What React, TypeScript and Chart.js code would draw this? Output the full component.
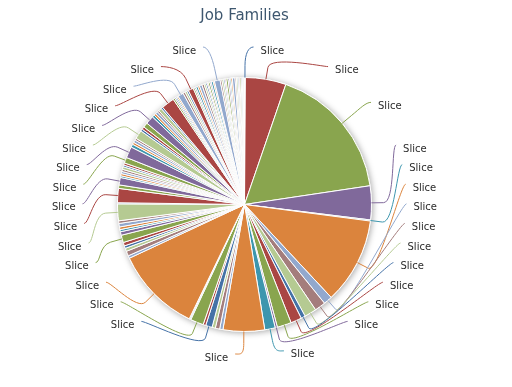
import React, { useEffect, useRef } from 'react';
import { Chart, registerables } from 'chart.js';

Chart.register(...registerables);

const chartTitle = 'Job Families';

// Highcharts-2 style default palette, cycled over the slices
const palette = ['#4572A7', '#AA4643', '#89A54E', '#80699B', '#3D96AE', '#DB843D', '#92A8CD', '#A47D7C', '#B5CA92'];

// slice values (in degrees of the full circle)
const values = [
  0.4, 18.6, 62.5, 15.5, 0.5, 39.5, 4.0, 5.0, 5.5, 2.0,
  5.0, 6.5, 1.0, 4.8, 19.0, 1.5, 2.0, 1.5, 3.0, 1.2,
  6.0, 0.4, 0.4, 39.2, 1.2, 2.2, 1.4, 1.2, 1.6, 3.4,
  1.6, 1.0, 1.2, 1.6, 1.2, 7.7, 0.5, 6.5, 1.6, 3.4,
  0.8, 1.0, 1.0, 1.0, 1.2, 0.8, 1.0, 2.6, 5.2, 1.4,
  1.0, 1.2, 0.9, 4.0, 1.0, 1.2, 2.2, 3.8, 1.1, 0.9,
  1.2, 0.8, 1.5, 0.8, 6.0, 0.8, 0.6, 0.6, 0.6, 2.6,
  1.0, 0.9, 0.8, 2.4, 0.7, 0.6, 0.9, 0.8, 1.2, 1.0,
  0.8, 0.7, 0.5, 0.8, 0.6, 0.9, 0.6, 2.6, 0.8, 0.8,
  0.6, 0.5, 0.9, 0.7, 0.6, 0.7, 1.2, 0.6, 0.7, 0.5,
  0.4, 0.6, 0.5, 0.4, 0.3, 0.3,
];

const categories: string[] = values.map(() => 'Slice');
const sliceColors = values.map((_, i) => palette[i % palette.length]);

const calloutPlugin = {
  id: 'callouts',
  beforeDatasetsDraw(chart: any) {
    const meta = chart.getDatasetMeta(0);
    const el = meta.data[0];
    if (!el) return;
    const { x, y, outerRadius } = el.getProps(['x', 'y', 'outerRadius'], true);
    const ctx = chart.ctx;
    ctx.save();
    ctx.beginPath();
    ctx.arc(x, y, outerRadius + 0.5, 0, Math.PI * 2);
    ctx.shadowColor = 'rgba(0,0,0,0.35)';
    ctx.shadowBlur = 6;
    ctx.shadowOffsetX = 1;
    ctx.shadowOffsetY = 1;
    ctx.fillStyle = '#ffffff';
    ctx.fill();
    ctx.restore();
  },
  afterDatasetsDraw(chart: any) {
    const meta = chart.getDatasetMeta(0);
    const ds = chart.data.datasets[0];
    const vals: number[] = ds.data;
    const cols: string[] = ds.backgroundColor;
    const labs: string[] = chart.data.labels;
    const ctx = chart.ctx;
    const first = meta.data[0];
    if (!first) return;
    const { x: cx, y: cy, outerRadius: r } = first.getProps(['x', 'y', 'outerRadius'], true);
    const rd = r + 26.5; // label distance circle
    const step = 19.6; // slot height
    const textPad = 15.5;
    const slotsBase: number[] = [];
    for (let pos = cy - rd; pos <= cy + rd; pos += step) slotsBase.push(pos);
    const slotsLength = slotsBase.length;

    const getX = (yy: number, left: boolean) => {
      const d = Math.max(-1, Math.min(1, (yy - cy) / rd));
      return cx + (left ? -1 : 1) * Math.cos(Math.asin(d)) * rd;
    };

    const items = meta.data.map((arc: any, i: number) => {
      const p = arc.getProps(['startAngle', 'endAngle'], true);
      const a = (p.startAngle + p.endAngle) / 2;
      let th = a + Math.PI / 2;
      th = ((th % (2 * Math.PI)) + 2 * Math.PI) % (2 * Math.PI);
      return { i, a, v: vals[i], right: th < Math.PI, ny: cy + Math.sin(a) * rd };
    });

    ctx.save();
    ctx.font = '10px "DejaVu Sans"';
    ctx.textBaseline = 'middle';
    [true, false].forEach((side) => {
      let points = items.filter((it: any) => it.right === side);
      if (points.length > slotsLength) {
        const keep = new Set(
          points.slice().sort((p: any, q: any) => q.v - p.v).slice(0, slotsLength).map((p: any) => p.i)
        );
        points = points.filter((p: any) => keep.has(p.i));
      }
      points.sort((p: any, q: any) => p.ny - q.ny);
      const length = points.length;
      const slots: (number | null)[] = slotsBase.slice();
      const used: { i: number; y: number }[] = [];
      for (let j = 0; j < length; j++) {
        const ny = points[j].ny;
        let closest = Infinity;
        let slotIndex = 0;
        for (let s = 0; s < slotsLength; s++) {
          if (slots[s] === null) continue;
          const dist = Math.abs((slots[s] as number) - ny);
          if (dist < closest) {
            closest = dist;
            slotIndex = s;
          }
        }
        if (slotIndex < j && slots[j] !== null) {
          slotIndex = j;
        } else if (slotsLength < length - j + slotIndex && slots[j] !== null) {
          slotIndex = slotsLength - length + j;
          while (slots[slotIndex] === null) slotIndex++;
        } else {
          while (slots[slotIndex] === null) slotIndex++;
        }
        used.push({ i: slotIndex, y: slotsBase[slotIndex] });
        slots[slotIndex] = null;
      }
      used.sort((p, q) => q.y - p.y);
      for (let j = 0; j < length; j++) {
        const it: any = points[j];
        const slot = used.pop() as { i: number; y: number };
        const ny = it.ny;
        let ly = slot.y;
        if ((ny > ly && slots[slot.i + 1] !== null) || (ny < ly && slots[slot.i - 1] !== null)) {
          ly = ny;
        }
        const sgn = side ? 1 : -1;
        const gx = getX(slot.i === 0 || slot.i === slotsLength - 1 ? ny : ly, !side);
        const tx = gx + sgn * textPad;
        const ca = Math.cos(it.a);
        const sa = Math.sin(it.a);
        const ex = cx + ca * r;
        const ey = cy + sa * r;
        const bxp = cx + ca * (r + 12);
        const byp = cy + sa * (r + 12);
        const sx = tx - 7 * sgn;
        const sy = ly - 4;
        ctx.beginPath();
        ctx.moveTo(sx, sy);
        ctx.bezierCurveTo(sx - 5 * sgn, sy, 2 * bxp - ex, 2 * byp - ey, bxp, byp);
        ctx.lineTo(ex, ey);
        ctx.strokeStyle = cols[it.i];
        ctx.lineWidth = 1;
        ctx.stroke();
        ctx.fillStyle = '#2b2b2b';
        ctx.textAlign = side ? 'left' : 'right';
        ctx.fillText(labs[it.i], tx, ly);
      }
    });
    ctx.restore();
  },
};

export default function App() {
  const ref = useRef<HTMLCanvasElement | null>(null);
  useEffect(() => {
    if (!ref.current) return;
    const chart = new Chart(ref.current, {
      type: 'pie',
      data: {
        labels: categories,
        datasets: [
          {
            data: values,
            backgroundColor: sliceColors,
            borderColor: '#ffffff',
            borderWidth: 1,
            hoverOffset: 0,
          },
        ],
      },
      options: {
        animation: false,
        responsive: true,
        maintainAspectRatio: false,
        layout: { padding: { left: 117, right: 140, top: 0, bottom: 55 } },
        plugins: {
          legend: { display: false },
          tooltip: { enabled: false },
          title: {
            display: true,
            text: chartTitle,
            color: '#3E576F',
            font: { family: 'DejaVu Sans', size: 15, weight: 'normal' },
            padding: { top: 7, bottom: 52 },
          },
        },
      },
      plugins: [calloutPlugin],
    });
    return () => chart.destroy();
  }, []);
  return (
    <div style={{ position: 'fixed', left: 0, top: 0, width: 512, height: 387, background: '#ffffff' }}>
      <canvas ref={ref} />
    </div>
  );
}
